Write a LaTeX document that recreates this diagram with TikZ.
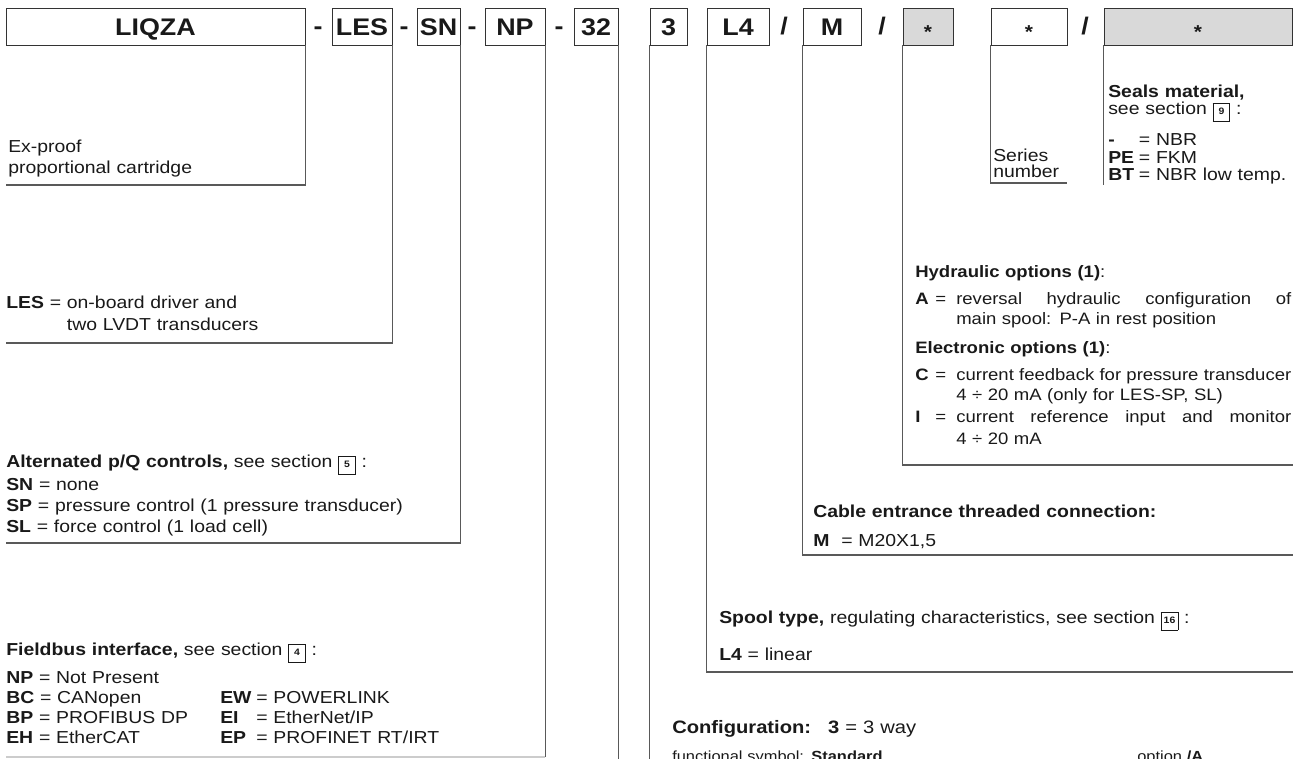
\documentclass[tikz,border=0pt]{standalone}
\usepackage{fontspec}
\setmainfont{Liberation Sans}[FakeStretch=1.12]
\usetikzlibrary{positioning}

\newcommand{\secbox}[1]{{\setlength{\fboxsep}{1.5pt}\setlength{\fboxrule}{0.6pt}%
  \fbox{\rule[-3.5pt]{0pt}{10pt}\makebox[9pt]{\fontsize{7}{7}\selectfont\bfseries #1}}}}
\newcommand{\starmark}{\raisebox{-2.5pt}{\fontsize{14}{14}\selectfont *}}
\newcommand{\optrow}[2]{\makebox[15pt][l]{\textbf{#1}}\makebox[15.75pt][l]{=}%
  {\spaceskip=0.28em plus 1fil minus 0.08em\hbox to 251.25pt{#2}}}

\tikzset{
    code box/.style={
        draw=black!80,line width=0.7pt,inner sep=0pt,
        minimum height=27.75pt,text height=12.9pt,text depth=0pt,
        font=\fontsize{18}{18}\selectfont\bfseries,text=black!90
    },
    sep mark/.style={
        anchor=base,inner sep=0pt,
        font=\fontsize{18}{18}\selectfont\bfseries,text=black!90
    },
    desc/.style={
        anchor=base west,inner sep=0pt,align=left,text width=#1,
        font=\fontsize{13}{15.75}\selectfont,text=black!90
    },
    desc/.default=420pt,
    leader/.style={draw=black!65,line width=0.9pt}
}

\begin{document}
\begin{tikzpicture}[x=0.75pt,y=-0.75pt]
\useasboundingbox (0,0) rectangle (1301,758);
\clip (0,0) rectangle (1301,758);
% ordering code
\foreach \x/\w/\n/\lbl/\f in {155.5/299/liqza/LIQZA/white,362/60/les/LES/white,438.5/43/sn/SN/white,
        515/60/np/NP/white,596/44/n32/32/white,668.5/37/cfg/3/white,738/62/spool/L4/white,
        832/58/cable/M/white,928/50/opt/\starmark/black!15,1029/76/series/\starmark/white,
        1198/188/seals/\starmark/black!15}
    \node[code box,fill=\f,minimum width=\w*0.75pt] (\n) at (\x,26.5) {\lbl};
\foreach \x in {318,404,472,559}
    \node[sep mark] (dash\x) at (\x,34) {-};
\foreach \x in {784,882,1085}
    \node[sep mark] (slash\x) at (\x,34) {/};

\coordinate (liqza end) at (6,185);
\coordinate (les end) at (6,343);
\coordinate (sn end) at (6,543);
\coordinate (np end) at (6,757);
\coordinate (foot) at (0,760);
\coordinate (spool end) at (1293,672);
\coordinate (cable end) at (1293,555);
\coordinate (opt end) at (1293,465);
\coordinate (series end) at (1067,183);
\coordinate (seals end) at (1104,185);

\draw[leader] (liqza.south east) |- (liqza end);
\draw[leader] (les.south east) |- (les end);
\draw[leader] (sn.south east) |- (sn end);
\draw[leader] (np.south east) -- (np.south east |- np end);
\draw[leader,draw=black!20] (np.south east |- np end) -- (np end);
\draw[leader] (n32.south east) -- (n32.south east |- foot);
\draw[leader] (cfg.south west) -- (cfg.south west |- foot);
\draw[leader] (spool.south west) |- (spool end);
\draw[leader] (cable.south west) |- (cable end);
\draw[leader] (opt.south west) |- (opt end);
\draw[leader] (series.south west) |- (series end);
\draw[leader] (seals.south west) -- (seals.south west |- seals end);

% left column
\node[desc] (liqza desc) at (8,152) {Ex-proof\\proportional cartridge};
\node[desc] (les desc) at (6,308) {\textbf{LES} = \parbox[t]{200pt}{on-board driver and\\[1pt]two LVDT transducers}};
\node[desc] (sn desc) at (6,467) {\textbf{Alternated p/Q controls,} see section \secbox{5} :\\[2pt]
    \textbf{SN} = none\\
    \textbf{SP} = pressure control (1 pressure transducer)\\
    \textbf{SL} = force control (1 load cell)};
\node[desc,font=\fontsize{13}{15}\selectfont] (np desc) at (6,655) {\textbf{Fieldbus interface,} see section \secbox{4} :\\[6pt]
    \textbf{NP} = Not Present\\
    \makebox[160.5pt][l]{\textbf{BC} = CANopen}\makebox[27pt][l]{\textbf{EW}}= POWERLINK\\
    \makebox[160.5pt][l]{\textbf{BP} = PROFIBUS DP}\makebox[27pt][l]{\textbf{EI}}= EtherNet/IP\\
    \makebox[160.5pt][l]{\textbf{EH} = EtherCAT}\makebox[27pt][l]{\textbf{EP}}= PROFINET RT/IRT};

% right column
\node[desc=60pt,font=\fontsize{13}{12.5}\selectfont] (series desc) at (993,161) {Series\\number};
\node[desc=140pt,font=\fontsize{13}{13}\selectfont] (seals desc) at (1108,97) {\textbf{Seals material,}\\
    see section \secbox{9} :\\[8pt]
    \makebox[23pt][l]{\textbf{-}}= NBR\\
    \makebox[23pt][l]{\textbf{PE}}= FKM\\
    \makebox[23pt][l]{\textbf{BT}}= NBR low temp.};
\node[desc=282pt,font=\fontsize{12.4}{15}\selectfont] (opt desc) at (915,277) {\textbf{Hydraulic options (1)}:\\[5.25pt]
    \optrow{A}{reversal hydraulic configuration of}\\
    \hspace*{30.75pt}main spool: P-A in rest position\\[6.75pt]
    \textbf{Electronic options (1)}:\\[5.25pt]
    \optrow{C}{current feedback for pressure transducer}\\
    \hspace*{30.75pt}4 ÷ 20 mA (only for LES-SP, SL)\\[1.5pt]
    \optrow{I}{current reference input and monitor}\\[1.5pt]
    \hspace*{30.75pt}4 ÷ 20 mA};
\node[desc] (cable desc) at (813,517) {\textbf{Cable entrance threaded connection:}\\[6pt]
    \makebox[21pt][l]{\textbf{M}}= M20X1,5};
\node[desc=430pt] (spool desc) at (719,623) {\textbf{Spool type,} regulating characteristics, see section \secbox{16} :\\[12pt]
    \textbf{L4} = linear};
\node[desc,font=\fontsize{13.5}{16}\selectfont] (cfg desc) at (672,733) {\textbf{Configuration:}\hspace{6pt} \textbf{3} = 3 way};
\node[desc,font=\fontsize{11}{13}\selectfont] (cfg sym) at (672,761) {functional symbol: \textbf{Standard}};
\node[desc,font=\fontsize{11}{13}\selectfont] (cfg opt) at (1137,761) {option \textbf{/A}};
\end{tikzpicture}
\end{document}
